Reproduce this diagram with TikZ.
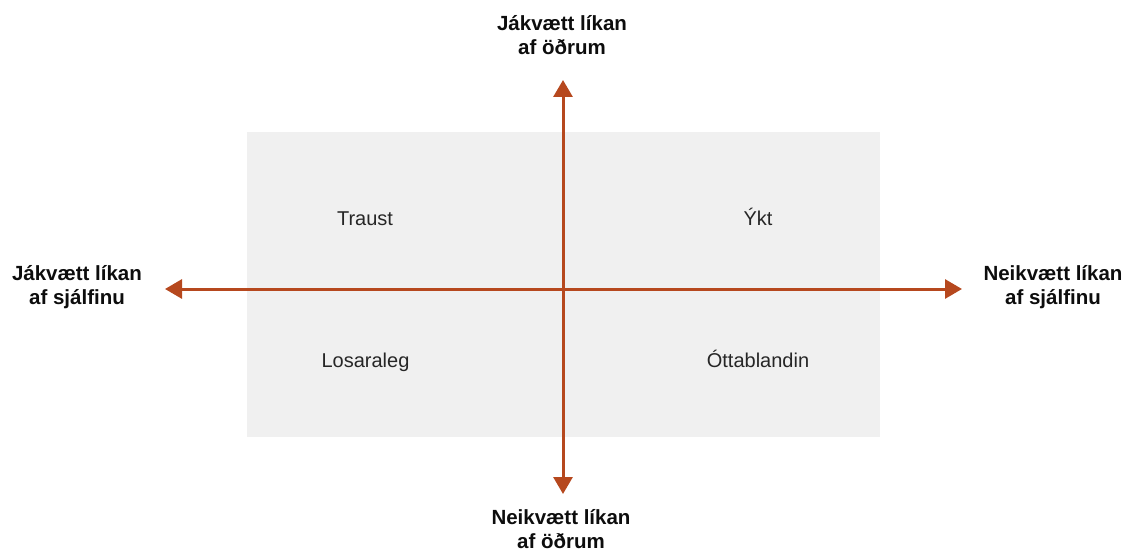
\documentclass[tikz,border=0pt]{standalone}
\usepackage{fontspec}
\setmainfont{Liberation Sans}
\usetikzlibrary{arrows.meta}
\definecolor{axiscol}{RGB}{182,72,30}
\definecolor{panelcol}{RGB}{240,240,240}
\tikzset{
  axis/.style={draw=axiscol, line width=3pt, {Triangle[length=17pt,width=19pt]}-{Triangle[length=17pt,width=19pt]}},
  panel/.style={fill=panelcol, inner sep=0pt, minimum width=633pt, minimum height=305pt},
  axlabel/.style={align=center, font=\bfseries\fontsize{20.5}{24}\selectfont, text=black!95, inner sep=0pt},
  quad/.style={font=\fontsize{20}{24}\selectfont, text=black!85, inner sep=0pt, anchor=base}
}
\begin{document}
\begin{tikzpicture}[x=1pt,y=-1pt]
\path[use as bounding box] (0,0) rectangle (1125,551);
\node[panel] (pnl) at (563.5,284.5) {};
\coordinate (top) at (563,80);
\coordinate (bot) at (563,494);
\coordinate (lft) at (165,289);
\coordinate (rgt) at (962,289);
\draw[axis] (bot) -- (top);
\draw[axis] (lft) -- (rgt);
\node[axlabel] (ltop) at (562,35) {Jákvætt líkan\\af öðrum};
\node[axlabel] (lbot) at (561,529) {Neikvætt líkan\\af öðrum};
\node[axlabel] (llft) at (77,287.5) {Jákvætt líkan\\af sjálfinu};
\node[axlabel] (lrgt) at (1053,287.5) {Neikvætt líkan\\af sjálfinu};
\node[quad] (q1) at (365,225) {Traust};
\node[quad] (q2) at (758,225) {Ýkt};
\node[quad] (q3) at (365.5,367) {Losaraleg};
\node[quad] (q4) at (758,367) {Óttablandin};
\end{tikzpicture}
\end{document}
